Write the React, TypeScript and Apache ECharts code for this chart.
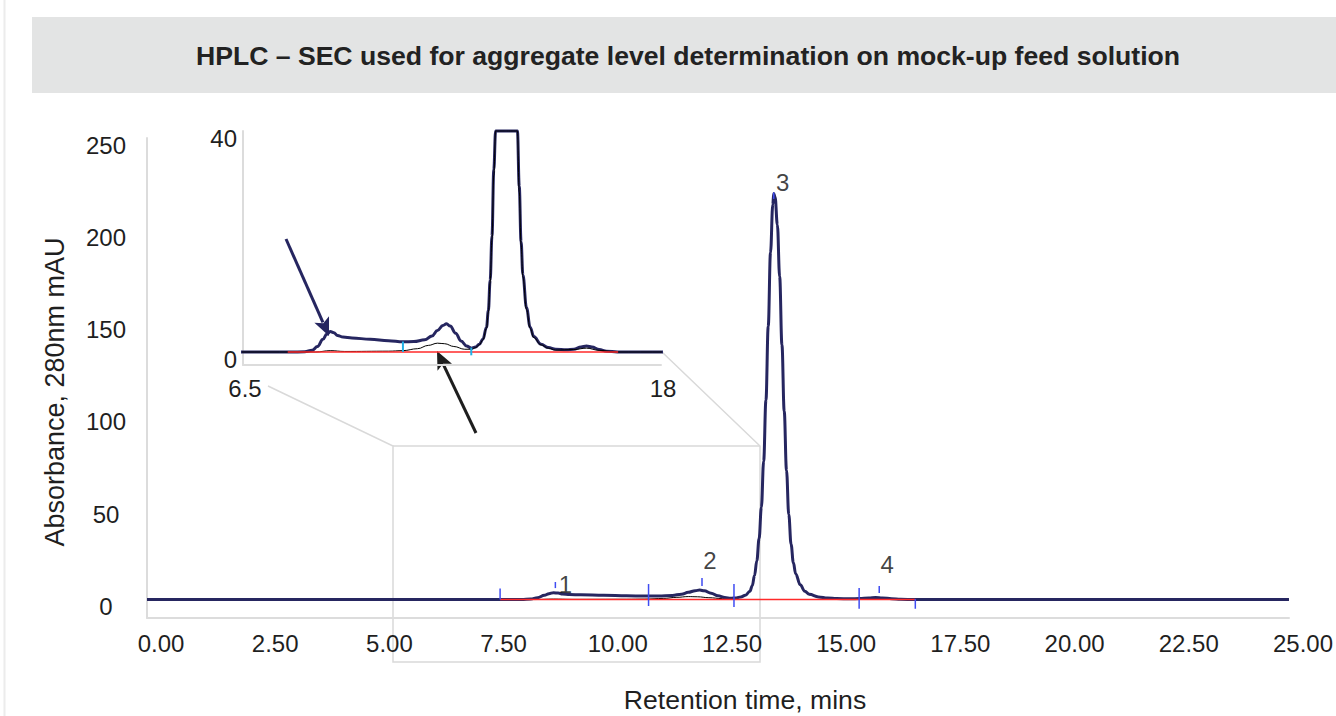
import React, { useEffect, useRef } from "react";
import * as echarts from "echarts";

// ---------- data ----------
const titleText = "HPLC \u2013 SEC used for aggregate level determination on mock-up feed solution";
const xAxisTitle = "Retention time, mins";
const yAxisTitle = "Absorbance, 280nm mAU";

const mainYTicks = [0, 50, 100, 150, 200, 250];
const insetXTicks = [6.5, 18];
const insetYTicks = [0, 40];

// feed sample trace (navy)
const sampleTimes = [0, 7.8, 8.2, 8.4, 8.55, 8.7, 8.8, 8.9, 9.0, 9.1, 9.25, 9.5, 10.0, 10.5, 10.9, 11.2, 11.5, 11.7, 11.85, 12.0, 12.1, 12.2, 12.35, 12.5, 12.65, 12.78, 12.9, 13.0, 13.1, 13.2, 13.25, 13.3, 13.35, 13.4, 13.45, 13.5, 13.55, 13.6, 13.65, 13.7, 13.72, 13.75, 13.8, 13.85, 13.9, 13.95, 14.0, 14.05, 14.1, 14.15, 14.2, 14.3, 14.4, 14.5, 14.7, 14.9, 15.1, 15.4, 15.6, 15.8, 15.95, 16.1, 16.3, 16.5, 16.8, 25];
const sampleAbs = [0, 0, 0.05, 0.3, 1.0, 2.3, 3.2, 3.7, 3.5, 3.0, 2.7, 2.55, 2.3, 2.05, 1.85, 1.9, 2.2, 2.9, 3.9, 4.8, 5.1, 4.7, 3.4, 2.0, 1.1, 0.7, 0.9, 1.4, 2.3, 4.5, 7.5, 13, 21, 33, 50, 75, 108, 148, 188, 214, 220, 218, 203, 175, 138, 102, 70, 46, 30, 20, 14, 8, 4.5, 2.8, 1.4, 0.8, 0.5, 0.4, 0.5, 0.9, 1.1, 0.9, 0.45, 0.15, 0, 0];

// reference trace (thin black)
const referenceTimes = [0, 8.5, 8.9, 9.3, 10.5, 10.9, 11.3, 11.6, 11.85, 12.05, 12.3, 12.6, 12.78, 12.9, 13.0, 13.1, 13.2, 13.25, 13.3, 13.35, 13.4, 13.45, 13.5, 13.55, 13.6, 13.65, 13.7, 13.72, 13.75, 13.8, 13.85, 13.9, 13.95, 14.0, 14.05, 14.1, 14.15, 14.2, 14.3, 14.4, 14.5, 14.7, 14.9, 15.1, 15.6, 15.95, 16.3, 16.8, 25];
const referenceAbs = [0, 0, 0.25, 0.1, 0.15, 0.25, 0.6, 1.2, 1.6, 1.5, 1.0, 0.5, 0.5, 0.8, 1.3, 2.2, 4.3, 7.2, 12.6, 20.5, 32, 49, 74, 107, 147, 187, 213, 219, 217, 202, 174, 137, 101, 69, 45, 29, 19.5, 13.6, 7.7, 4.3, 2.6, 1.3, 0.7, 0.35, 0.45, 0.7, 0.3, 0, 0];

// integration baseline (red)
const baselineTimes = [7.73, 16.82];
const baselineAbs = [0, 0];

// integration boundary marks
const boundaryTimes = [7.73, 10.98, 12.85, 15.59, 16.82];
const boundaryLow = [0, -3.5, -4, -5, -5];
const boundaryHigh = [6, 8.4, 8.4, 6.2, 0.3];

// apex marks
const apexTimes = [8.94, 12.15, 13.72, 16.03];
const apexLow = [6.2, 7.3, 217, 3.5];
const apexHigh = [9.5, 11.6, 220.5, 7.3];

// peak numbers
const peakNames = ["1", "2", "3", "4"];
const peakTimes = [8.94, 12.15, 13.72, 16.03];
const peakAbs = [3.7, 5.1, 220, 1.1];

// inset marks
const insetMarkTimes = [10.9, 12.78];
const insetMarkLow = [0, -0.6];
const insetMarkHigh = [1.9, 0.8];

const INSET_MAX = 40;

// ---------- helpers ----------
const zip = (a: number[], b: number[]) => {
  const n = Math.min(a.length, b.length);
  const out: number[][] = [];
  for (let i = 0; i < n; i++) out.push([a[i], b[i]]);
  return out;
};
const zip3 = (a: number[], b: number[], c: number[]) => {
  const n = Math.min(a.length, b.length, c.length);
  const out: number[][] = [];
  for (let i = 0; i < n; i++) out.push([a[i], b[i], c[i]]);
  return out;
};

const FONT = "'Liberation Sans', Arial, Helvetica, sans-serif";
const NAVY = "#262660";
const TEXT = "#1f1f1f";
const AXIS_GRAY = "#dcdcdc";

function arrow(x1: number, y1: number, x2: number, y2: number, color: string) {
  const dx = x2 - x1, dy = y2 - y1;
  const len = Math.hypot(dx, dy);
  const ux = dx / len, uy = dy / len;
  const hl = 18, hw = 8;
  const bx = x2 - ux * hl, by = y2 - uy * hl;
  const px = -uy, py = ux;
  return [
    { type: "line", shape: { x1, y1, x2: bx + ux * 3, y2: by + uy * 3 }, style: { stroke: color, lineWidth: 3 } },
    {
      type: "polygon",
      shape: { points: [[x2, y2], [bx + px * hw, by + py * hw], [bx + ux * 4, by + uy * 4], [bx - px * hw, by - py * hw]] },
      style: { fill: color },
    },
  ];
}

function markSeries(name: string, data: number[][], xi: number, yi: number, color: string, width: number) {
  return {
    name,
    type: "custom",
    xAxisIndex: xi,
    yAxisIndex: yi,
    data,
    encode: { x: 0, y: [1, 2] },
    z: 6,
    clip: false,
    renderItem: (params: any, api: any) => {
      const p1 = api.coord([api.value(0), api.value(1)]);
      const p2 = api.coord([api.value(0), api.value(2)]);
      return {
        type: "line",
        shape: { x1: p1[0], y1: p1[1], x2: p2[0], y2: p2[1] },
        style: { stroke: color, lineWidth: width },
      };
    },
  };
}

export default function App() {
  const ref = useRef<HTMLDivElement>(null);

  useEffect(() => {
    if (!ref.current) return;
    const chart = echarts.init(ref.current, undefined, { renderer: "svg" });

    const sampleData = zip(sampleTimes, sampleAbs);
    const referenceData = zip(referenceTimes, referenceAbs);
    const baselineData = zip(baselineTimes, baselineAbs);
    const insetSample = sampleData.map((d) => [d[0], Math.min(d[1], INSET_MAX)]);
    const insetReference = referenceData.map((d) => [d[0], Math.min(d[1], INSET_MAX)]);

    const labelOffsets = [[10, -8], [8, -30], [9, -11], [8, -33]];
    const peakLabelData = peakTimes.map((t, i) => ({
      value: [t, peakAbs[i]],
      name: peakNames[i],
      label: { offset: labelOffsets[i] },
    }));

    const lineCommon = {
      type: "line",
      showSymbol: false,
      symbol: "none",
      smooth: 0.4,
      smoothMonotone: "x",
    };

    const option: any = {
      animation: false,
      backgroundColor: "#ffffff",
      grid: [
        { left: 147, top: 138, width: 1148, height: 480, containLabel: false },
        { left: 243, top: 131, width: 418, height: 234, containLabel: false },
      ],
      xAxis: [
        {
          type: "value",
          gridIndex: 0,
          min: 0,
          max: 25,
          interval: 2.5,
          axisLine: { show: true, onZero: false, lineStyle: { color: AXIS_GRAY, width: 2 } },
          axisTick: { show: false },
          splitLine: { show: false },
          axisLabel: {
            color: TEXT,
            fontFamily: FONT,
            fontSize: 24,
            margin: 13,
            padding: [0, 0, 0, 28],
            formatter: (v: number) => v.toFixed(2),
          },
        },
        {
          type: "value",
          gridIndex: 1,
          min: 6.5,
          max: 18,
          axisLine: { show: true, onZero: false, lineStyle: { color: AXIS_GRAY, width: 2 } },
          axisTick: { show: false },
          splitLine: { show: false },
          axisLabel: {
            color: TEXT,
            fontFamily: FONT,
            fontSize: 24,
            margin: 11,
            padding: [0, 0, 0, 4],
            customValues: insetXTicks,
            showMinLabel: true,
            showMaxLabel: true,
          },
        },
      ],
      yAxis: [
        {
          type: "value",
          gridIndex: 0,
          min: -10,
          max: 250,
          axisLine: { show: true, onZero: false, lineStyle: { color: AXIS_GRAY, width: 2 } },
          axisTick: { show: false },
          splitLine: { show: false },
          axisLabel: {
            color: TEXT,
            fontFamily: FONT,
            fontSize: 24,
            margin: 41,
            align: "center",
            verticalAlign: "top",
            lineHeight: 14,
            customValues: mainYTicks,
          },
        },
        {
          type: "value",
          gridIndex: 1,
          min: -2.35,
          max: 40,
          axisLine: { show: true, onZero: false, lineStyle: { color: AXIS_GRAY, width: 2 } },
          axisTick: { show: false },
          splitLine: { show: false },
          axisLabel: {
            color: TEXT,
            fontFamily: FONT,
            fontSize: 24,
            margin: 6,
            align: "right",
            verticalAlign: "top",
            lineHeight: 14,
            customValues: insetYTicks,
          },
        },
      ],
      series: [
        { ...lineCommon, name: "Reference", xAxisIndex: 0, yAxisIndex: 0, data: referenceData, lineStyle: { color: "#000000", width: 1 }, z: 2 },
        { ...lineCommon, name: "Feed", xAxisIndex: 0, yAxisIndex: 0, data: sampleData, lineStyle: { color: NAVY, width: 3 }, z: 3 },
        { type: "line", name: "Baseline", xAxisIndex: 0, yAxisIndex: 0, data: baselineData, symbol: "none", lineStyle: { color: "#ff2a2a", width: 1.5 }, z: 5 },
        markSeries("Boundaries", zip3(boundaryTimes, boundaryLow, boundaryHigh), 0, 0, "#3f4cf2", 1.5),
        markSeries("Apex", zip3(apexTimes, apexLow, apexHigh), 0, 0, "#3f4cf2", 1.5),
        {
          type: "scatter",
          name: "Peaks",
          xAxisIndex: 0,
          yAxisIndex: 0,
          symbolSize: 1,
          itemStyle: { color: "rgba(0,0,0,0)" },
          data: peakLabelData,
          z: 7,
          label: {
            show: true,
            position: "inside",
            formatter: (p: any) => p.name,
            color: "#111",
            fontFamily: FONT,
            fontSize: 24,
          },
        },
        { ...lineCommon, name: "Feed inset", xAxisIndex: 1, yAxisIndex: 1, data: insetSample, clip: false, lineStyle: { color: NAVY, width: 3 }, z: 3 },
        { ...lineCommon, name: "Reference inset", xAxisIndex: 1, yAxisIndex: 1, data: insetReference, clip: false, lineStyle: { color: "#000000", width: 1 }, z: 4 },
        { type: "line", name: "Baseline inset", xAxisIndex: 1, yAxisIndex: 1, data: baselineData, symbol: "none", lineStyle: { color: "#ff2a2a", width: 1.5 }, z: 5 },
        markSeries("Inset marks", zip3(insetMarkTimes, insetMarkLow, insetMarkHigh), 1, 1, "#22b0e6", 2),
      ],
      graphic: [
        { type: "rect", z: -10, shape: { x: 32, y: 17, width: 1320, height: 76 }, style: { fill: "#e3e4e4" } },
        { type: "line", z: -10, shape: { x1: 4.5, y1: 0, x2: 4.5, y2: 716 }, style: { stroke: "#ececec", lineWidth: 2 } },
        {
          type: "text",
          x: 688,
          y: 56,
          style: {
            text: titleText,
            fill: "#222",
            font: `bold 26.6px ${FONT}`,
            align: "center",
            verticalAlign: "middle",
            textAlign: "center",
            textVerticalAlign: "middle",
          },
        },
        {
          type: "text",
          x: 745,
          y: 700,
          style: {
            text: xAxisTitle,
            fill: TEXT,
            font: `26.6px ${FONT}`,
            align: "center",
            verticalAlign: "middle",
            textAlign: "center",
            textVerticalAlign: "middle",
          },
        },
        {
          type: "text",
          x: 55,
          y: 392,
          rotation: Math.PI / 2,
          style: {
            text: yAxisTitle,
            fill: TEXT,
            font: `27px ${FONT}`,
            align: "center",
            verticalAlign: "middle",
            textAlign: "center",
            textVerticalAlign: "middle",
          },
        },
        // zoom connector lines
        {
          type: "polyline",
          shape: { points: [[268, 386], [393, 446], [393, 662], [760, 662], [760, 446], [662, 352]] },
          style: { stroke: "#d9d9d9", lineWidth: 1.5, fill: null },
        },
        { type: "line", shape: { x1: 393, y1: 446, x2: 760, y2: 446 }, style: { stroke: "#d9d9d9", lineWidth: 1.5 } },
        { type: "group", children: arrow(286, 239, 329, 336, NAVY) },
        { type: "group", children: arrow(476, 433, 437, 351, "#1e1e1e") },
      ],
    };

    chart.setOption(option);
    return () => chart.dispose();
  }, []);

  return (
    <div
      ref={ref}
      style={{ position: "fixed", left: 0, top: 0, width: 1336, height: 716, background: "#fff" }}
    />
  );
}
